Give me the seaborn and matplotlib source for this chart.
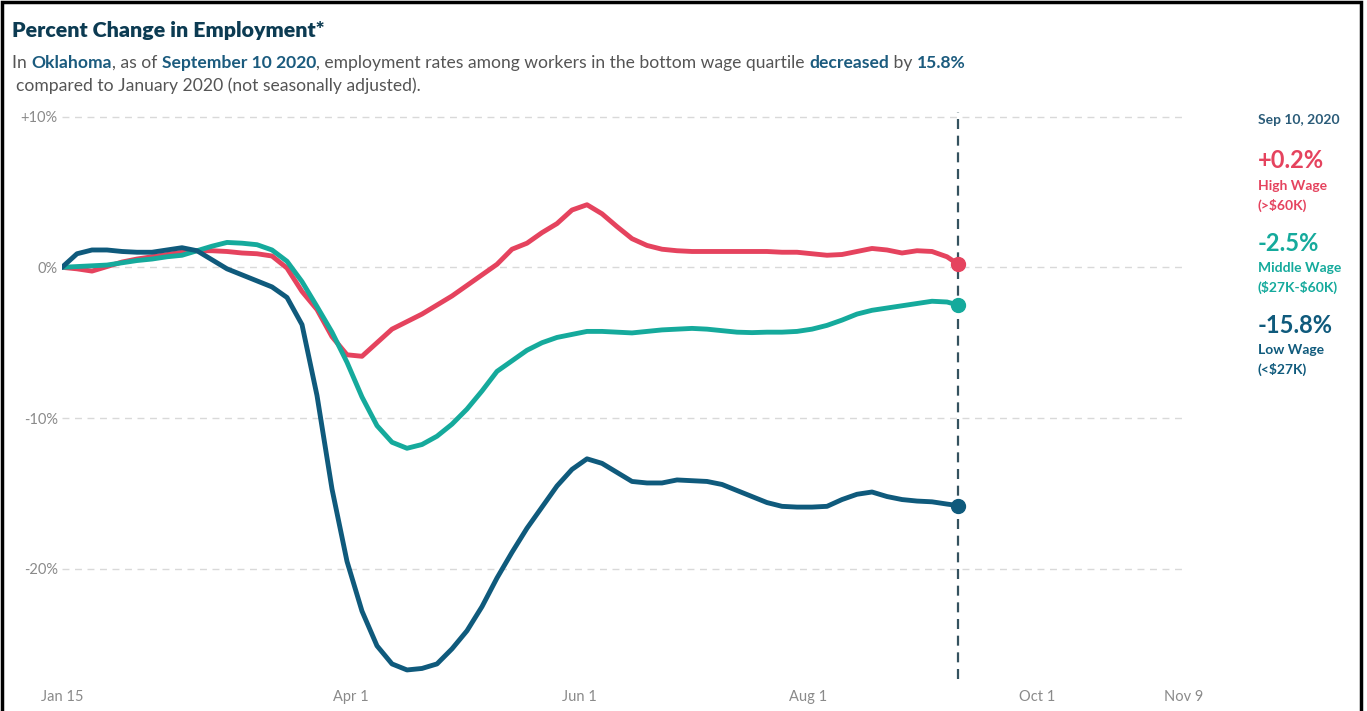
import pandas as pd
import matplotlib
matplotlib.use("Agg")
import matplotlib.pyplot as plt
import seaborn as sns
from matplotlib.patches import Rectangle

# days after Jan 15 2020 (percent change)
days = [0, 4, 8, 12, 16, 20, 24, 28, 32, 36, 40, 44, 48, 52, 56, 60, 64, 68, 72, 76,
        80, 84, 88, 92, 96, 100, 104, 108, 112, 116, 120, 124, 128, 132, 136, 140, 144,
        148, 152, 156, 160, 164, 168, 172, 176, 180, 184, 188, 192, 196, 200, 204, 208,
        212, 216, 220, 224, 228, 232, 236, 239]
high_wage = [0.0, -0.1, -0.25, 0.05, 0.35, 0.55, 0.7, 0.85, 1.0, 1.1, 1.1, 1.05, 0.95,
             0.9, 0.75, -0.05, -1.6, -2.8, -4.6, -5.8, -5.9, -5.0, -4.1, -3.6, -3.1, -2.5,
             -1.9, -1.2, -0.5, 0.2, 1.2, 1.6, 2.3, 2.9, 3.8, 4.15, 3.55, 2.7, 1.9, 1.45,
             1.2, 1.1, 1.05, 1.05, 1.05, 1.05, 1.05, 1.05, 1.0, 1.0, 0.9, 0.8, 0.85, 1.05,
             1.25, 1.15, 0.95, 1.1, 1.05, 0.7, 0.2]
middle_wage = [0.0, 0.05, 0.1, 0.15, 0.3, 0.45, 0.55, 0.7, 0.8, 1.1, 1.4, 1.65, 1.6, 1.5,
               1.15, 0.4, -0.95, -2.6, -4.3, -6.3, -8.6, -10.5, -11.6, -12.0, -11.75,
               -11.2, -10.4, -9.4, -8.2, -6.9, -6.2, -5.5, -5.0, -4.65, -4.45, -4.25,
               -4.25, -4.3, -4.35, -4.25, -4.15, -4.1, -4.05, -4.1, -4.2, -4.3, -4.33,
               -4.3, -4.3, -4.25, -4.1, -3.85, -3.5, -3.1, -2.85, -2.7, -2.55, -2.4,
               -2.25, -2.3, -2.5]
low_wage = [0.0, 0.9, 1.15, 1.15, 1.05, 1.0, 1.0, 1.15, 1.3, 1.1, 0.5, -0.1, -0.5, -0.9,
            -1.3, -2.0, -3.8, -8.5, -14.7, -19.5, -22.8, -25.1, -26.3, -26.7, -26.6,
            -26.3, -25.3, -24.1, -22.5, -20.6, -18.9, -17.3, -15.9, -14.5, -13.4, -12.7,
            -13.0, -13.6, -14.2, -14.3, -14.3, -14.1, -14.15, -14.2, -14.4, -14.8, -15.2,
            -15.6, -15.85, -15.9, -15.9, -15.85, -15.4, -15.05, -14.9, -15.2, -15.4,
            -15.5, -15.55, -15.7, -15.8]

series = ["High Wage", "Middle Wage", "Low Wage"]
colors = ["#e5435e", "#15aa9c", "#0f5a7c"]
last_values = ["+0.2%", "-2.5%", "-15.8%"]
wage_ranges = [r"(>\$60K)", r"(\$27K-\$60K)", r"(<\$27K)"]

tick_dates = ["2020-01-15", "2020-04-01", "2020-06-01", "2020-08-01", "2020-10-01", "2020-11-09"]
tick_labels = ["Jan 15", "Apr 1", "Jun 1", "Aug 1", "Oct 1", "Nov 9"]
y_ticks = [10, 0, -10, -20]
y_labels = ["+10%", "0%", "-10%", "-20%"]

start = pd.Timestamp("2020-01-15")
dates = [start + pd.Timedelta(days=d) for d in days]
df = pd.DataFrame({"date": dates * 3,
                   "value": high_wage + middle_wage + low_wage,
                   "group": [s for s in series for _ in days]})

sns.set_style("white")
plt.rcParams["font.family"] = ["Lato", "DejaVu Sans"]

W, H = 1367, 711
fig = plt.figure(figsize=(W / 100, H / 100), dpi=100)
ax = fig.add_axes([62 / W, 1 - 679 / H, 1125 / W, 567 / H])

sns.lineplot(data=df, x="date", y="value", hue="group", palette=colors,
             hue_order=series, linewidth=3.5, legend=False, ax=ax)
for ln in ax.lines:
    ln.set_solid_joinstyle("round")
    ln.set_solid_capstyle("round")

# end markers on Sep 10
for s, c in zip(series, colors):
    sub = df[df.group == s]
    ax.plot(sub.date.iloc[-1], sub.value.iloc[-1], "o", color=c, markersize=10, zorder=5)

ax.axvline(dates[-1], color="#35525f", linestyle=(0, (4.5, 3)), linewidth=1.6, zorder=1)

ax.set_xlim(start, start + pd.Timedelta(days=300))
ax.set_ylim(-27.3, 10.3)
ax.set_yticks(y_ticks)
ax.set_yticklabels(y_labels)
ax.set_xticks(pd.to_datetime(tick_dates))
ax.set_xticklabels(tick_labels)
ax.set_xlabel("")
ax.set_ylabel("")
ax.grid(axis="y", color="#d9d9d9", linestyle=(0, (5, 4)), linewidth=1)
ax.grid(axis="x", visible=False)
for sp in ax.spines.values():
    sp.set_visible(False)
ax.tick_params(length=0, labelsize=10.5, labelcolor="#8a8a8a")
ax.tick_params(axis="y", pad=3)
ax.tick_params(axis="x", pad=8)

# title and subtitle
fig.text(12 / W, 1 - 31 / H, "Percent Change in Employment*", fontsize=15.4,
         fontweight="heavy", color="#0c3b52", va="center")

renderer = fig.canvas.get_renderer()


def rich_line(x_px, y_px, parts, size):
    x = x_px
    for txt, bold in parts:
        t = fig.text(x / W, 1 - y_px / H, txt, fontsize=size, va="center",
                     fontweight="bold" if bold else "normal",
                     color="#1b5b7e" if bold else "#555555")
        x += t.get_window_extent(renderer).width
    return x


rich_line(12, 63, [("In ", False), ("Oklahoma", True), (", as of ", False),
                   ("September 10 2020", True),
                   (", employment rates among workers in the bottom wage quartile ", False),
                   ("decreased", True), (" by ", False), ("15.8%", True)], 12.6)
rich_line(16, 86, [("compared to January 2020 (not seasonally adjusted).", False)], 12.6)

# right hand labels
rx = 1258 / W
fig.text(rx, 1 - 120 / H, "Sep 10, 2020", fontsize=10, fontweight="bold",
         color="#2a5b78", va="center")
for i, (s, c) in enumerate(zip(series, colors)):
    y0 = 161 + i * 82
    fig.text(rx, 1 - y0 / H, last_values[i], fontsize=17, fontweight="bold", color=c, va="center")
    fig.text(rx, 1 - (y0 + 25) / H, s, fontsize=10, fontweight="bold", color=c, va="center")
    fig.text(rx, 1 - (y0 + 44) / H, wage_ranges[i], fontsize=10, fontweight="bold", color=c, va="center")

# screenshot frame
fig.patches.append(Rectangle((2 / W, -0.05), 1359 / W, 1.05 - 2 / H, transform=fig.transFigure,
                             fill=False, edgecolor="black", linewidth=2.5))

fig.savefig("out.png", dpi=100)
